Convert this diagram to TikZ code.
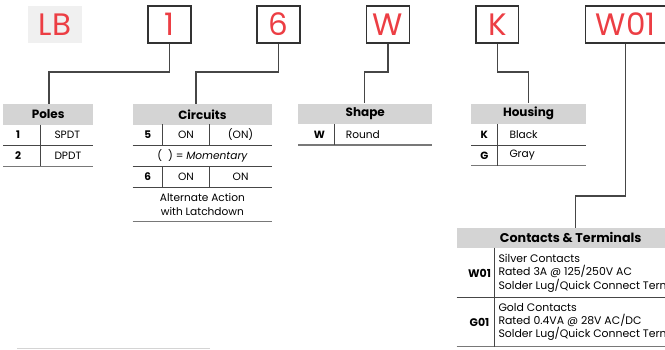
\documentclass[tikz,border=0pt]{standalone}
\usepackage{fontspec}
\setmainfont{Poppins}
\definecolor{codered}{RGB}{236,62,68}
\definecolor{boxgray}{RGB}{50,50,50}
\definecolor{linkgray}{RGB}{70,70,70}
\definecolor{hdrgray}{RGB}{212,212,212}
\definecolor{lbgray}{RGB}{240,240,240}
\definecolor{rulegray}{RGB}{70,70,70}
\definecolor{botgray}{RGB}{120,120,120}
\tikzset{
  codebox/.style={draw=boxgray, line width=1.3pt, minimum height=37pt, inner sep=0pt, text=codered, font=\fontsize{31}{31}\selectfont},
  hdr/.style={fill=hdrgray, inner sep=0pt, minimum height=20.5pt, font=\bfseries\fontsize{12}{12}\selectfont},
  cell/.style={inner sep=0pt, font=\fontsize{10.6}{11}\selectfont},
  key/.style={inner sep=0pt, font=\bfseries\fontsize{10.5}{10.5}\selectfont},
  bigcell/.style={inner sep=0pt, anchor=west, align=left, font=\fontsize{10.9}{13.3}\selectfont},
  link/.style={draw=linkgray, line width=1.3pt},
  rowrule/.style={draw=rulegray, line width=0.9pt},
  botrule/.style={draw=botgray, line width=1.4pt},
  divider/.style={draw=rulegray, line width=1pt}
}
\begin{document}
\begin{tikzpicture}[x=1pt,y=-1pt]
\useasboundingbox (0,0) rectangle (665,349);
\clip (0,0) rectangle (665,349);
% code boxes
\node[fill=lbgray, minimum width=54pt, minimum height=37pt, inner sep=0pt, text=codered, font=\fontsize{31}{31}\selectfont] (lb) at (55,24.5) {LB};
\node[codebox, minimum width=43pt] (b1) at (169.5,24.5) {1};
\node[codebox, minimum width=43pt] (b6) at (278.5,24.5) {6};
\node[codebox, minimum width=42.5pt] (bW) at (388,24.5) {W};
\node[codebox, minimum width=42.5pt] (bK) at (497.3,24.5) {K};
\node[codebox, minimum width=80pt] (bW01) at (625.7,24.5) {W01};
% headers
\node[hdr, minimum width=89.7pt] (hP) at (48.2,114.5) {Poles};
\node[hdr, minimum width=139.3pt] (hC) at (202.4,114.3) {Circuits};
\node[hdr, minimum width=134pt] (hS) at (365.3,113.8) {Shape};
\node[hdr, minimum width=115pt] (hH) at (528.5,113.8) {Housing};
\node[hdr, minimum width=228pt, minimum height=19.7pt, font=\bfseries\fontsize{12.7}{13}\selectfont] (hT) at (570.7,237.8) {Contacts \& Terminals};
% connectors
\coordinate (k1) at (49,72);
\coordinate (k6) at (196,72);
\coordinate (kW) at (364.7,72);
\coordinate (kK) at (528.7,72);
\coordinate (kT) at (575.3,196);
\draw[link] (b1.south) |- (k1) -- (k1 |- hP.north);
\draw[link] (b6.south) |- (k6) -- (k6 |- hC.north);
\draw[link] (bW.south) |- (kW) -- (kW |- hS.north);
\draw[link] (bK.south) |- (kK) -- (kK |- hH.north);
\draw[link] (bW01.south) |- (kT) -- (kT |- hT.north);
% Poles table
\draw[rowrule] (3.3,145.7) -- (93,145.7);
\draw[botrule] (3.3,166.3) -- (93,166.3);
\draw[divider] (40.7,124.5) -- (40.7,166.3);
\node[key] (p1k) at (18,135) {1};
\node[cell, anchor=west] (p1v) at (54.3,135) {SPDT};
\node[key] (p2k) at (18,156) {2};
\node[cell, anchor=west] (p2v) at (54.3,156) {DPDT};
% Circuits table
\draw[rowrule] (132.7,145.5) -- (272,145.5);
\draw[rowrule] (132.7,166) -- (272,166);
\draw[rowrule] (132.7,187.3) -- (272,187.3);
\draw[botrule] (132.7,221.5) -- (272,221.5);
\draw[divider] (162.7,124.3) -- (162.7,145.5);
\draw[divider] (209.3,124.3) -- (209.3,145.5);
\draw[divider] (162.7,166) -- (162.7,187.3);
\draw[divider] (209.3,166) -- (209.3,187.3);
\node[key] (c5k) at (147.7,135) {5};
\node[cell] (c5a) at (186,135) {ON};
\node[cell] (c5b) at (240.6,135) {(ON)};
\node[cell] (cmom) at (202.4,156) {(\hspace{6pt}) = \itshape Momentary};
\node[key] (c6k) at (147.7,176.7) {6};
\node[cell] (c6a) at (186,176.7) {ON};
\node[cell] (c6b) at (240.6,176.7) {ON};
\node[cell, align=center, font=\fontsize{10.6}{13.5}\selectfont] (calt) at (202.4,204.5) {Alternate Action\\with Latchdown};
% Shape table
\draw[botrule] (298.3,145) -- (432.3,145);
\draw[divider] (334,124) -- (334,145);
\node[key] (swk) at (319.3,134.6) {W};
\node[cell, anchor=west] (swv) at (345.7,134.6) {Round};
% Housing table
\draw[rowrule] (471,145) -- (586,145);
\draw[botrule] (471,165.7) -- (586,165.7);
\draw[divider] (497.7,124) -- (497.7,165.7);
\node[key] (hkk) at (484.3,134.6) {K};
\node[cell, anchor=west] (hkv) at (509.3,134.6) {Black};
\node[key] (hgk) at (484.3,155.4) {G};
\node[cell, anchor=west] (hgv) at (509.3,155.4) {Gray};
% Contacts table
\draw[rowrule] (456.7,297.3) -- (665,297.3);
\draw[botrule] (456.7,346.7) -- (665,346.7);
\draw[divider] (494.3,247.7) -- (494.3,346.7);
\node[key, font=\bfseries\fontsize{11}{11}\selectfont] (tw) at (479.5,273) {W01};
\node[bigcell] (twv) at (498.3,273.3) {Silver Contacts\\Rated 3A @ 125/250V AC\\Solder Lug/Quick Connect Terminals};
\node[key, font=\bfseries\fontsize{11}{11}\selectfont] (tg) at (479.5,322) {G01};
\node[bigcell] (tgv) at (498.3,322) {Gold Contacts\\Rated 0.4VA @ 28V AC/DC\\Solder Lug/Quick Connect Terminals};
% bottom line
\draw[draw=hdrgray, line width=1.2pt] (17,348.3) -- (210,348.3);
\end{tikzpicture}
\end{document}
